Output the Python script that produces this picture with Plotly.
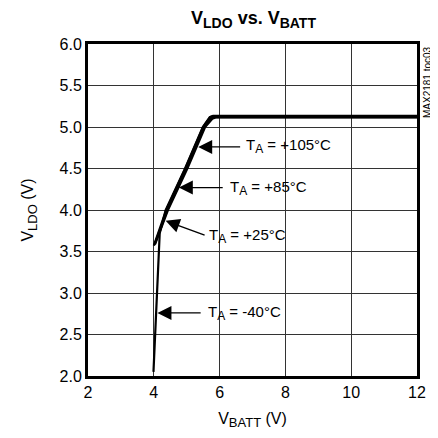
import plotly.graph_objects as go

# Data
x_m40 = [3.99, 4.07, 4.18, 4.36, 4.95, 5.49, 5.70, 5.80, 12.0]
y_m40 = [2.05, 2.75, 3.72, 4.00, 4.50, 5.00, 5.12, 5.135, 5.135]
x_25 = [4.00, 4.38, 4.96, 5.50, 5.72, 5.82, 12.0]
y_25 = [3.57, 4.00, 4.50, 5.00, 5.12, 5.13, 5.13]
x_85 = [4.02, 4.41, 4.99, 5.53, 5.75, 5.85, 12.0]
y_85 = [3.58, 4.00, 4.50, 5.00, 5.11, 5.12, 5.12]
x_105 = [4.04, 4.43, 5.02, 5.56, 5.78, 5.88, 12.0]
y_105 = [3.59, 4.00, 4.50, 5.00, 5.10, 5.115, 5.115]


def sub(s, size):
    return f"<sub><span style='font-size:{size}px'>{s}</span></sub>"


labels = ["T" + sub("A", 12) + " = +105°C", "T" + sub("A", 12) + " = +85°C",
          "T" + sub("A", 12) + " = +25°C", "T" + sub("A", 12) + " = -40°C"]
head_x = [5.35, 4.76, 4.36, 4.11]
head_y = [4.76, 4.27, 3.87, 2.76]
tail_x = [6.67, 6.14, 5.59, 5.47]
tail_y = [4.76, 4.27, 3.69, 2.76]
text_x = [6.74, 6.25, 5.62, 5.60]
text_y = [4.77, 4.27, 3.69, 2.76]

xticks = [2, 4, 6, 8, 10, 12]
yticks = [2.0, 2.5, 3.0, 3.5, 4.0, 4.5, 5.0, 5.5, 6.0]

FAM = "Liberation Sans, Arial, sans-serif"

fig = go.Figure()
for xs, ys in [(x_m40, y_m40), (x_25, y_25), (x_85, y_85), (x_105, y_105)]:
    fig.add_trace(go.Scatter(x=xs, y=ys, mode="lines",
                             line=dict(color="black", width=2.2),
                             showlegend=False, hoverinfo="skip"))

font = dict(family=FAM, size=15, color="black")

for i in range(len(labels)):
    fig.add_annotation(x=head_x[i], y=head_y[i], ax=tail_x[i], ay=tail_y[i],
                       xref="x", yref="y", axref="x", ayref="y",
                       text="", showarrow=True, arrowhead=2, arrowsize=2.0,
                       arrowwidth=1.4, arrowcolor="black", standoff=0)
    fig.add_annotation(x=text_x[i], y=text_y[i], xref="x", yref="y",
                       text=labels[i], showarrow=False, xanchor="left",
                       yanchor="middle", font=font)

fig.add_annotation(x=1.0, y=1.0, xref="paper", yref="paper", xanchor="center",
                   yanchor="top", xshift=10, text="MAX2181 toc03", textangle=-90,
                   showarrow=False,
                   font=dict(family=FAM, size=10, color="black"))

W, H = 430, 430
fig.update_layout(
    width=W, height=H,
    margin=dict(l=80, r=19, t=36, b=62),
    paper_bgcolor="white", plot_bgcolor="white",
    title=dict(text="<b>V" + sub("LDO", 14) + " vs. V" + sub("BATT", 14) + "</b>",
               x=(80 + 411) / 2 / W, xanchor="center", y=1 - 10 / H, yanchor="middle",
               font=dict(family=FAM, size=18, color="black")),
    font=font,
)
tickfont = dict(family=FAM, size=16, color="black")
fig.update_xaxes(range=[2, 12], tickvals=xticks, ticktext=[str(v) for v in xticks],
                 showgrid=True, gridcolor="#333", gridwidth=1,
                 showline=True, linecolor="black", linewidth=3, mirror=True,
                 zeroline=False, ticks="", tickfont=tickfont,
                 title=dict(text="V" + sub("BATT", 13) + " (V)",
                            font=dict(family=FAM, size=16, color="black"), standoff=13))
fig.update_yaxes(range=[2, 6], tickvals=yticks, ticktext=[f"{v:.1f}" for v in yticks],
                 showgrid=True, gridcolor="#333", gridwidth=1,
                 showline=True, linecolor="black", linewidth=3, mirror=True,
                 zeroline=False, ticks="", tickfont=tickfont,
                 title=dict(text="V" + sub("LDO", 13) + " (V)",
                            font=dict(family=FAM, size=16, color="black"), standoff=22))

fig.write_html("out.html")
